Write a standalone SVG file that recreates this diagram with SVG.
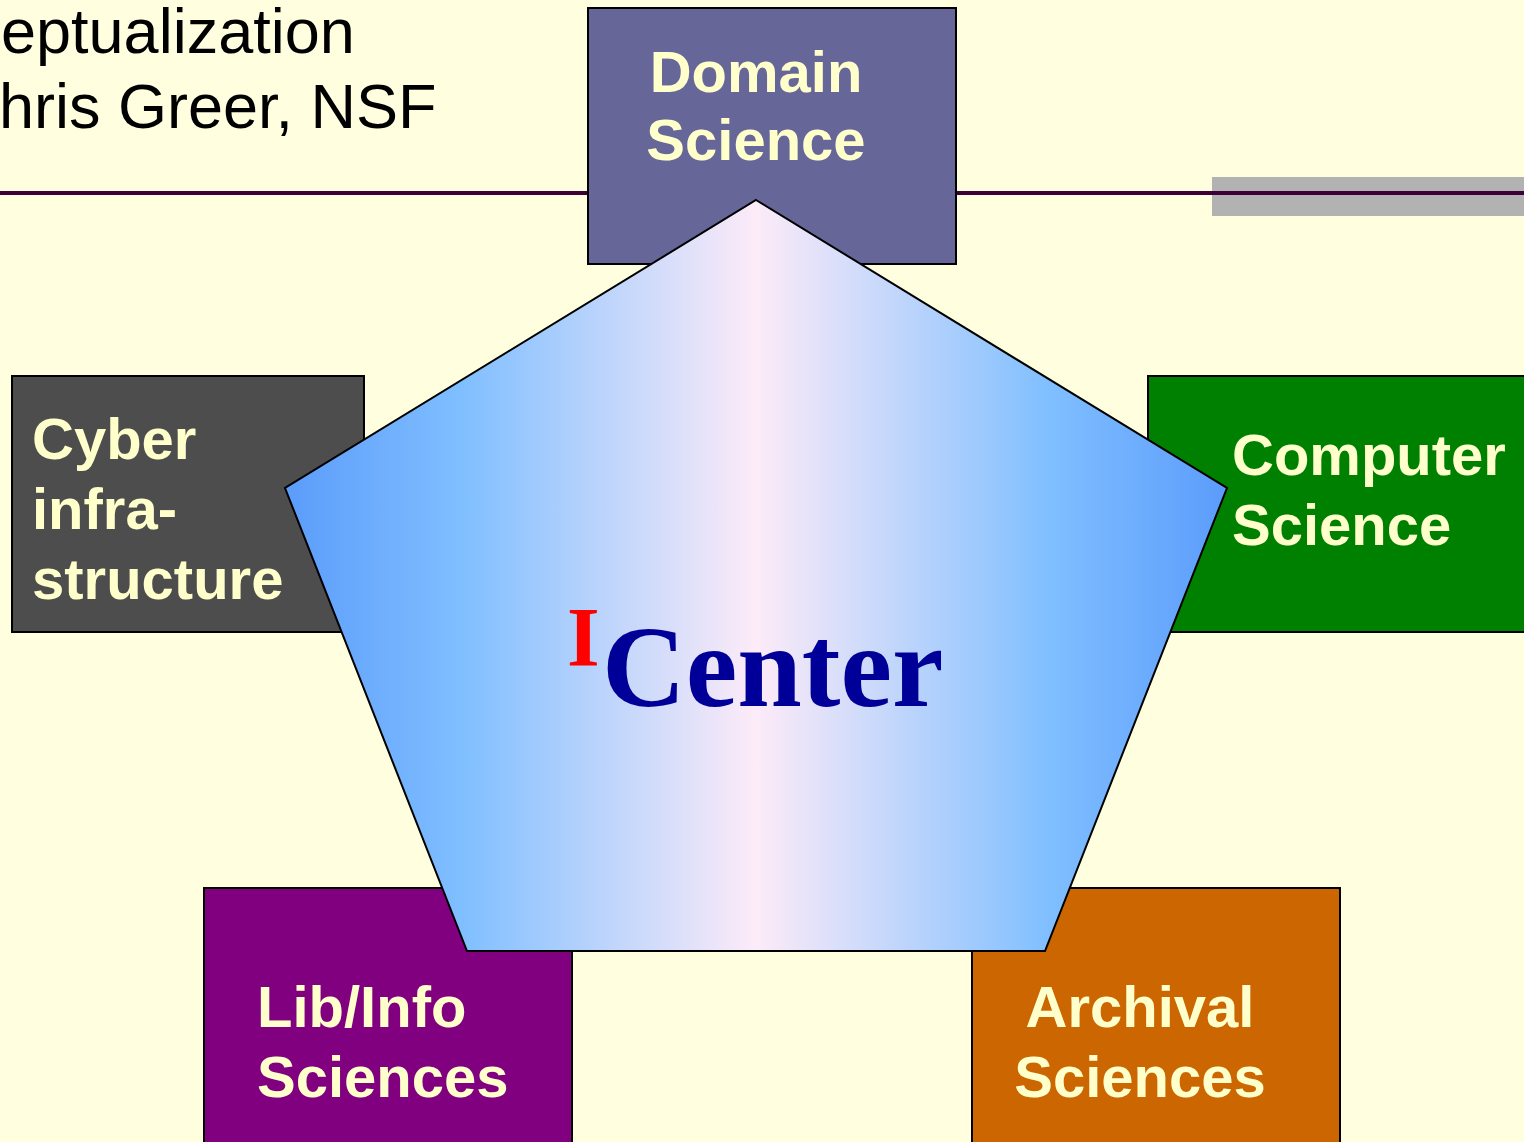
<svg xmlns="http://www.w3.org/2000/svg" width="1524" height="1142" viewBox="0 0 1524 1142">
<style>
.lbl{font-family:"Liberation Sans",Arial,sans-serif;font-weight:bold;font-size:58px;fill:#ffffcc}
.box{stroke:#000;stroke-width:2}
.title{font-family:"Liberation Sans",Arial,sans-serif;font-size:63px;fill:#000}
</style>
<defs>
<linearGradient id="pg" x1="285" y1="0" x2="1227" y2="0" gradientUnits="userSpaceOnUse">
<stop offset="0" stop-color="#5b9cfb"/>
<stop offset="0.19" stop-color="#80bfff"/>
<stop offset="0.5" stop-color="#fdebf8"/>
<stop offset="0.81" stop-color="#80bfff"/>
<stop offset="1" stop-color="#5b9cfb"/>
</linearGradient>
</defs>
<rect width="1524" height="1142" fill="#ffffe0"/>
<g id="header">
<text class="title" x="1" y="53">eptualization</text>
<text class="title" x="-1" y="128">hris Greer, NSF</text>
<rect x="1212" y="177" width="312" height="39" fill="#b2b2b2"/>
<rect x="0" y="191" width="1524" height="4" fill="#3d0036"/>
</g>
<g id="domain">
<rect class="box" x="588" y="8" width="368" height="256" fill="#666699"/>
<text class="lbl" x="756" y="92" text-anchor="middle">Domain</text>
<text class="lbl" x="756" y="160" text-anchor="middle">Science</text>
</g>
<g id="cyber">
<rect class="box" x="12" y="376" width="352" height="256" fill="#4d4d4d"/>
<text class="lbl" x="32" y="459">Cyber</text>
<text class="lbl" x="32" y="529">infra-</text>
<text class="lbl" x="32" y="599">structure</text>
</g>
<g id="computer">
<rect class="box" x="1148" y="376" width="380" height="256" fill="#008000"/>
<text class="lbl" x="1232" y="475">Computer</text>
<text class="lbl" x="1232" y="545">Science</text>
</g>
<g id="libinfo">
<rect class="box" x="204" y="888" width="368" height="260" fill="#800080"/>
<text class="lbl" x="257" y="1027">Lib/Info</text>
<text class="lbl" x="257" y="1097">Sciences</text>
</g>
<g id="archival">
<rect class="box" x="972" y="888" width="368" height="260" fill="#cc6600"/>
<text class="lbl" x="1140" y="1027" text-anchor="middle">Archival</text>
<text class="lbl" x="1140" y="1097" text-anchor="middle">Sciences</text>
</g>
<g id="icenter">
<polygon points="756,200 1227,488 1045,951 467,951 285,488" fill="url(#pg)" stroke="#000" stroke-width="2"/>
<text x="567" y="666" font-family="'Liberation Serif','Times New Roman',serif" font-weight="bold" font-size="84" fill="#ff0000">I</text>
<text x="602" y="706" font-family="'Liberation Serif','Times New Roman',serif" font-weight="bold" font-size="116" fill="#000099">Center</text>
</g>
<g id="connectors"/>
</svg>
